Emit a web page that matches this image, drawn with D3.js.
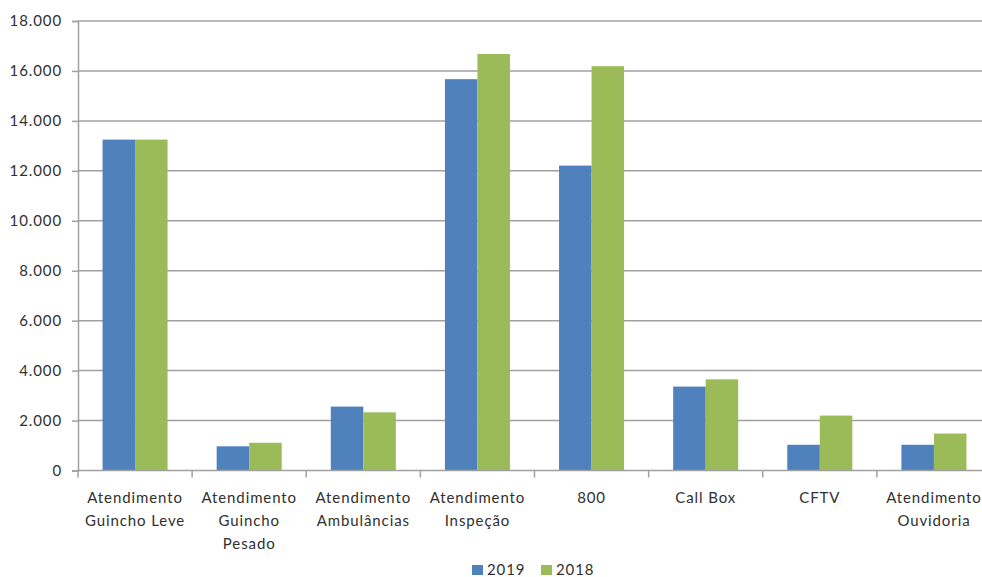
<!DOCTYPE html>
<html>
<head>
<meta charset="utf-8">
<script src="https://cdn.jsdelivr.net/npm/d3@7"></script>
<style>
  body { margin: 0; background: #fff; }
  svg text { font-family: Lato, "Open Sans", sans-serif; fill: #303030; letter-spacing: 0.9px; }
</style>
</head>
<body>
<svg></svg>
<script>

var categories = ["Atendimento Guincho Leve", "Atendimento Guincho Pesado", "Atendimento Ambulâncias",
                  "Atendimento Inspeção", "800", "Call Box", "CFTV", "Atendimento Ouvidoria"];
var tickLabels = [["Atendimento", "Guincho Leve"], ["Atendimento", "Guincho", "Pesado"],
                  ["Atendimento", "Ambulâncias"], ["Atendimento", "Inspeção"], ["800"],
                  ["Call Box"], ["CFTV"], ["Atendimento", "Ouvidoria"]];
var years = ["2019", "2018"];
var values2019 = [13250, 970, 2560, 15670, 12210, 3360, 1030, 1030];
var values2018 = [13250, 1110, 2330, 16680, 16190, 3650, 2200, 1480];
var yTicks = [0, 2000, 4000, 6000, 8000, 10000, 12000, 14000, 16000, 18000];
var colors = ["#4f81bd", "#9bbb59"];

var width = 982, height = 577;
var plotLeft = 78, plotRight = 991, plotTop = 21, plotBottom = 470.5;

var svg = d3.select("svg")
    .attr("width", width)
    .attr("height", height);

var rows = categories.map(function(c, i) {
    return { cat: c, lines: tickLabels[i], vals: [values2019[i], values2018[i]] };
});

var x0 = d3.scaleBand()
    .domain(categories)
    .range([plotLeft, plotRight]);

var x1 = d3.scaleBand()
    .domain(years)
    .range([0, x0.bandwidth()])
    .paddingOuter(0.755);

var y = d3.scaleLinear()
    .domain([0, 18000])
    .range([plotBottom, plotTop]);

var loc = d3.formatLocale({ decimal: ",", thousands: ".", grouping: [3], currency: ["", ""] });

// gridlines
svg.append("g")
    .selectAll("line")
    .data(yTicks.filter(function(d) { return d > 0; }))
    .enter().append("line")
    .attr("x1", plotLeft)
    .attr("x2", width)
    .attr("y1", function(d) { return y(d); })
    .attr("y2", function(d) { return y(d); })
    .attr("stroke", "#a0a0a0")
    .attr("stroke-width", 1.5);

// y axis
var yAxis = svg.append("g")
    .attr("transform", "translate(" + plotLeft + ",0)")
    .call(d3.axisLeft(y).tickValues(yTicks).tickSize(6).tickPadding(10).tickFormat(loc.format(",")));
yAxis.select(".domain").attr("stroke", "#a0a0a0").attr("stroke-width", 1.5);
yAxis.selectAll(".tick line").attr("stroke", "#a0a0a0").attr("stroke-width", 1.5);
yAxis.selectAll(".tick text").style("font-size", "15px").attr("fill", "#303030")
    .attr("font-family", null);

// bars
var groups = svg.append("g")
    .selectAll("g")
    .data(rows)
    .enter().append("g")
    .attr("transform", function(d) { return "translate(" + x0(d.cat) + ",0)"; });

groups.selectAll("rect")
    .data(function(d) { return d.vals.map(function(v, i) { return { year: years[i], v: v, i: i }; }); })
    .enter().append("rect")
    .attr("x", function(d) { return x1(d.year); })
    .attr("width", x1.bandwidth())
    .attr("y", function(d) { return y(d.v); })
    .attr("height", function(d) { return y(0) - y(d.v); })
    .attr("fill", function(d) { return colors[d.i]; });

// x axis
var xAxis = svg.append("g")
    .attr("transform", "translate(0," + plotBottom + ")");
xAxis.append("line")
    .attr("x1", plotLeft).attr("x2", width)
    .attr("stroke", "#a0a0a0").attr("stroke-width", 1.5);
xAxis.selectAll(".xt")
    .data(categories)
    .enter().append("line")
    .attr("x1", function(d) { return x0(d); })
    .attr("x2", function(d) { return x0(d); })
    .attr("y1", 0).attr("y2", 7)
    .attr("stroke", "#a0a0a0").attr("stroke-width", 1.5);

var labels = xAxis.selectAll(".xl")
    .data(rows)
    .enter().append("text")
    .attr("text-anchor", "middle")
    .style("font-size", "15px")
    .attr("transform", function(d) { return "translate(" + (x0(d.cat) + x0.bandwidth() / 2) + ",32)"; });
labels.selectAll("tspan")
    .data(function(d) { return d.lines; })
    .enter().append("tspan")
    .attr("x", 0)
    .attr("y", function(d, i) { return i * 23; })
    .text(function(d) { return d; });

// legend
var legend = svg.append("g")
    .selectAll("g")
    .data(years)
    .enter().append("g")
    .attr("transform", function(d, i) { return "translate(" + (472 + i * 69) + ",565)"; });
legend.append("rect")
    .attr("width", 11).attr("height", 10)
    .attr("fill", function(d, i) { return colors[i]; });
legend.append("text")
    .attr("x", 15).attr("y", 10)
    .style("font-size", "15px")
    .text(function(d) { return d; });

</script>
</body>
</html>
